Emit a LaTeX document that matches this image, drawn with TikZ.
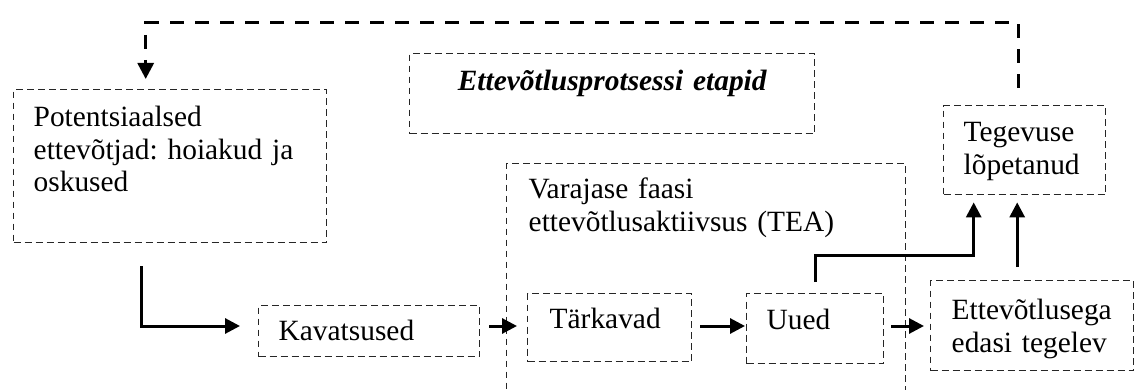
\documentclass[tikz,border=0pt]{standalone}
\usepackage{fontspec}
\setmainfont{Liberation Serif}
\usetikzlibrary{arrows.meta,calc}
\newcommand\diagfont{\fontsize{14.7pt}{16.25pt}\selectfont\frenchspacing}
\begin{document}
\begin{tikzpicture}[x=0.5pt,y=-0.5pt,
  box/.style={draw=black!85, line width=0.7pt, dash pattern=on 3.4pt off 2.1pt,
    anchor=north west, inner ysep=0pt, align=left, font=\diagfont},
  arr/.style={line width=1.5pt, -{Triangle[length=7.5pt,width=7.5pt]}},
  fb/.style={line width=1.5pt, dash pattern=on 7pt off 5.5pt,
    -{Triangle[length=8pt,width=8pt]}}]
\useasboundingbox (0,0) rectangle (1136,390);
\fill[white] (0,0) rectangle (1136,390);
\clip (0,0) rectangle (1136,390);

% boxes
\node[box, inner xsep=10pt, text width=136.5pt, text height=18.5pt, text depth=58pt]
  (pot) at (13,89) {Potentsiaalsed\\ ettevõtjad: hoiakud ja\\ oskused};
\node[box, inner xsep=0pt, text width=202.5pt, align=center, text height=18.5pt,
  text depth=21.5pt, font=\diagfont\bfseries\itshape]
  (title) at (409,53) {Ettevõtlusprotsessi etapid};
\node[box, inner xsep=10pt, text width=61pt, text height=18pt, text depth=26.5pt]
  (teg) at (943,105) {Tegevuse\\ lõpetanud};
\node[box, inner xsep=11pt, text width=177.5pt, text height=17.5pt, text depth=101pt]
  (tea) at (506,163) {Varajase faasi\\ ettevõtlusaktiivsus (TEA)};
\node[box, inner xsep=10pt, text width=90.5pt, text height=17.5pt, text depth=8pt]
  (kav) at (258,305) {Kavatsused};
\node[box, inner xsep=11pt, text width=60pt, text height=17.5pt, text depth=16.5pt]
  (tar) at (527,293) {Tärkavad};
\node[box, inner xsep=10pt, text width=48.5pt, text height=18pt, text depth=17pt]
  (uued) at (746,293) {Uued};
\node[box, inner xsep=10.5pt, text width=80.5pt, text height=19.5pt, text depth=25.5pt]
  (ett) at (930,280) {Ettevõtlusega\\ edasi tegelev};

% helper coordinates
\coordinate (rowY) at (0,326);
\coordinate (fbY) at (0,23);
\coordinate (fbA) at ($(teg.north)+(-3pt,8.5pt)$);
\coordinate (fbB) at ($(pot.north)+(-12.25pt,5pt)$);

% feedback dashed connector
\draw[fb] (fbA) -- (fbA |- fbY) -- (fbB |- fbY) -- (fbB);

% solid connectors
\draw[arr] ($(pot.south)+(-14.25pt,-11.5pt)$) |- ($(kav.west |- rowY)+(-9pt,0)$);
\draw[arr] ($(kav.east |- rowY)+(4.5pt,0)$) -- ($(tar.west |- rowY)+(-5pt,0)$);
\draw[arr] ($(tar.east |- rowY)+(4pt,0)$) -- ($(uued.west |- rowY)+(-0.5pt,0)$);
\draw[arr] ($(uued.east |- rowY)+(3.5pt,0)$) -- ($(ett.west |- rowY)+(-3pt,0)$);
\draw[arr] ($(uued.north)+(0,5.5pt)$) -- ++(0,13.5pt) -| ($(teg.south)+(-25.5pt,-3.5pt)$);
\draw[arr] ($(ett.north)+(-7.5pt,6.5pt)$) -- ($(ett.north |- teg.south)+(-7.5pt,-3.5pt)$);
\end{tikzpicture}
\end{document}
